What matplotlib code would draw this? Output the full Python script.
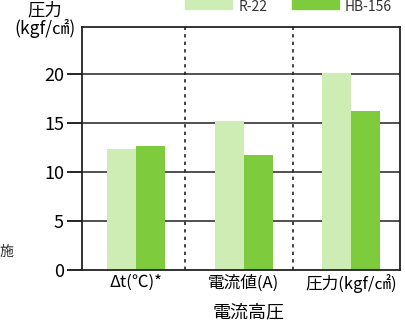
import matplotlib
matplotlib.use("Agg")
import matplotlib.pyplot as plt
from matplotlib.patches import Rectangle
import numpy as np

plt.rcParams['font.family'] = ['Noto Sans CJK JP', 'DejaVu Sans']

categories = ["Δt(℃)*", "電流値(A)", "圧力(kgf/㎠)"]
r22 = [12.4, 15.2, 20.1]
hb156 = [12.7, 11.7, 16.2]
series_names = ["R-22", "HB-156"]
yticks = [0, 5, 10, 15, 20]

light = "#cdedb5"
dark = "#7fcb3e"

fig = plt.figure(figsize=(4.05, 3.25), dpi=100)
ax = fig.add_axes([0.2025, 0.169, 0.7855, 0.748])

x = np.arange(len(categories))
w = 0.27
ax.bar(x - w / 2, r22, w, color=light, zorder=2)
ax.bar(x + w / 2, hb156, w, color=dark, zorder=2)

# gridlines sit behind the bars, dashed separators between groups
for v in yticks[1:]:
    ax.axhline(v, color="#333333", lw=1.2, zorder=1)
for xv in [0.46, 1.46]:
    ax.axvline(xv, color="#222222", lw=1.2, ls=(0, (2, 2.5)), zorder=1)

ax.set_xlim(-0.502, 2.456)
ax.set_ylim(0, 24.8)
ax.set_yticks(yticks)
ax.set_yticklabels([str(v) for v in yticks], fontsize=13)
ax.tick_params(axis="y", length=11, width=1.2, pad=2)
ax.set_xticks(x)
ax.set_xticklabels(categories, fontsize=12)
ax.tick_params(axis="x", length=0, pad=3)
for s in ax.spines.values():
    s.set_linewidth(1.3)
    s.set_color("#222222")

fig.text(0.11, 0.995, "圧力\n(kgf/㎠)", ha="center", va="top", fontsize=12.5, linespacing=0.95)
fig.text(0.615, 0.01, "電流高圧", ha="center", va="bottom", fontsize=13)
fig.text(0.0, 0.225, "施", ha="left", va="center", fontsize=10, color="#333333")

# legend strip at the top edge
fig.patches.append(Rectangle((0.457, 0.972), 0.116, 0.05, transform=fig.transFigure,
                             color=light, zorder=3))
fig.patches.append(Rectangle((0.72, 0.972), 0.116, 0.05, transform=fig.transFigure,
                             color=dark, zorder=3))
fig.text(0.59, 0.999, series_names[0], ha="left", va="top", fontsize=10, color="#333333")
fig.text(0.85, 0.999, series_names[1], ha="left", va="top", fontsize=10, color="#333333")

fig.savefig("out.png", dpi=100)
